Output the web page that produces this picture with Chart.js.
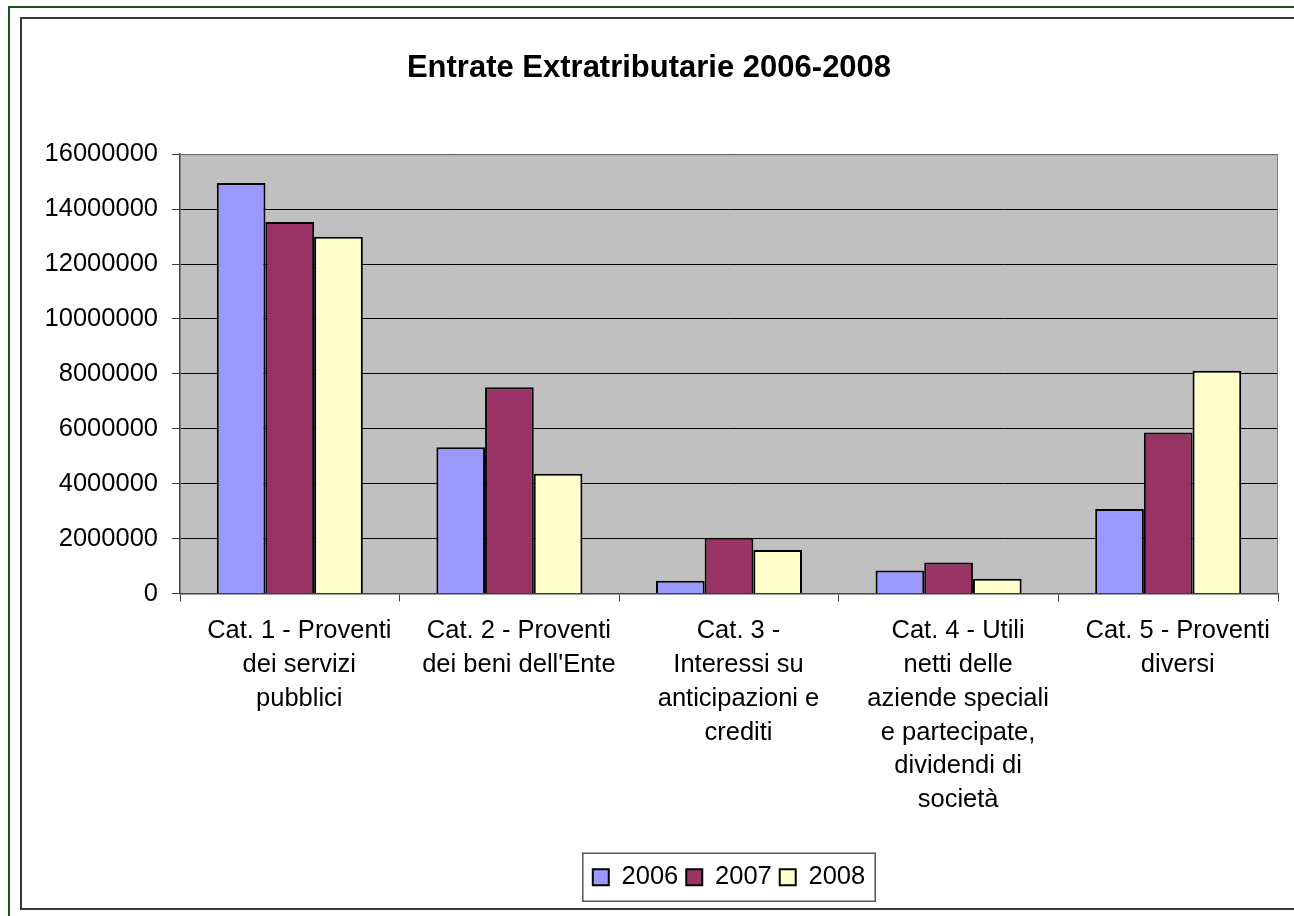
<!DOCTYPE html>
<html>
<head>
<meta charset="utf-8">
<script src="https://cdn.jsdelivr.net/npm/chart.js@4"></script>
<style>
html, body { margin: 0; padding: 0; background: #fff; }
#wrap { width: 1294px; height: 916px; }
</style>
</head>
<body>
<div id="wrap"><canvas id="chart" width="1294" height="916"></canvas></div>
<script>
const categories = [
  ['Cat. 1 - Proventi', 'dei servizi', 'pubblici'],
  ['Cat. 2 - Proventi', "dei beni dell'Ente"],
  ['Cat. 3 -', 'Interessi su', 'anticipazioni e', 'crediti'],
  ['Cat. 4 - Utili', 'netti delle', 'aziende speciali', 'e partecipate,', 'dividendi di', 'società'],
  ['Cat. 5 - Proventi', 'diversi']
];
const years = ['2006', '2007', '2008'];
const values2006 = [14950000, 5330000, 460000, 840000, 3080000];
const values2007 = [13530000, 7510000, 2030000, 1130000, 5860000];
const values2008 = [12990000, 4360000, 1580000, 540000, 8110000];
const yMin = 0;
const yMax = 16000000;
const yStep = 2000000;

const FONT = '"Liberation Sans", Arial, sans-serif';

// borders, plot background and the framed legend
const framePlugin = {
  id: 'frame',
  beforeDraw(chart) {
    const { ctx, chartArea: a } = chart;
    ctx.save();
    ctx.fillStyle = '#fff';
    ctx.fillRect(0, 0, chart.width, chart.height);
    ctx.strokeStyle = '#1e5220';
    ctx.lineWidth = 2;
    ctx.strokeRect(9, 7, chart.width + 20, chart.height + 20);
    ctx.strokeStyle = '#3a3a3a';
    ctx.strokeRect(21, 18, chart.width + 20, 891);
    ctx.fillStyle = '#c0c0c0';
    ctx.fillRect(a.left, a.top, a.right - a.left, a.bottom - a.top);
    ctx.restore();
  },
  afterDraw(chart) {
    const { ctx, chartArea: a } = chart;
    ctx.save();
    ctx.strokeStyle = '#808080';
    ctx.lineWidth = 1;
    ctx.beginPath();
    ctx.moveTo(a.left, a.top + 0.5);
    ctx.lineTo(a.right - 0.5, a.top + 0.5);
    ctx.lineTo(a.right - 0.5, a.bottom);
    ctx.stroke();

    const boxes = chart.legend.legendHitBoxes;
    if (boxes && boxes.length) {
      const left = boxes[0].left - 10;
      const last = boxes[boxes.length - 1];
      const right = last.left + last.width + 10;
      const mid = boxes[0].top + boxes[0].height / 2;
      ctx.strokeStyle = '#555';
      ctx.lineWidth = 1.5;
      ctx.strokeRect(left, mid - 24, right - left, 48);
    }
    ctx.restore();
  }
};

new Chart(document.getElementById('chart'), {
  type: 'bar',
  data: {
    labels: categories,
    datasets: [
      { label: years[0], data: values2006, backgroundColor: '#9999ff', borderColor: '#000', borderWidth: 2 },
      { label: years[1], data: values2007, backgroundColor: '#993366', borderColor: '#000', borderWidth: 2 },
      { label: years[2], data: values2008, backgroundColor: '#ffffcc', borderColor: '#000', borderWidth: 2 }
    ]
  },
  options: {
    responsive: false,
    animation: false,
    layout: { padding: { left: 20, right: 16, top: 0, bottom: 16 } },
    datasets: {
      bar: { categoryPercentage: 0.665, barPercentage: 1.0 }
    },
    scales: {
      x: {
        grid: { drawOnChartArea: false, drawTicks: true, tickLength: 8, color: '#404040', offset: true },
        border: { color: '#404040', width: 1.5 },
        ticks: {
          color: '#000',
          font: { family: FONT, size: 25.5, lineHeight: 1.333 },
          padding: 12,
          maxRotation: 0,
          autoSkip: false,
          labelOffset: 9.5
        },
        afterFit(s) { s.height = 263; }
      },
      y: {
        min: yMin,
        max: yMax,
        grid: { color: '#000', tickLength: 8, tickColor: '#404040' },
        border: { color: '#404040', width: 1.5 },
        ticks: {
          stepSize: yStep,
          color: '#000',
          padding: 14,
          font: { family: FONT, size: 25.5 },
          callback: v => String(v)
        },
        afterFit(s) { s.width = 160; }
      }
    },
    plugins: {
      title: {
        display: true,
        text: 'Entrate Extratributarie 2006-2008',
        color: '#000',
        font: { family: FONT, size: 31, weight: 'bold', lineHeight: 1.2 },
        padding: { top: 50, bottom: 67 }
      },
      legend: {
        position: 'bottom',
        fullSize: false,
        labels: {
          color: '#000',
          font: { family: FONT, size: 25.5 },
          boxWidth: 16,
          boxHeight: 16,
          padding: 8
        }
      },
      tooltip: { enabled: false }
    }
  },
  plugins: [framePlugin]
});
</script>
</body>
</html>
